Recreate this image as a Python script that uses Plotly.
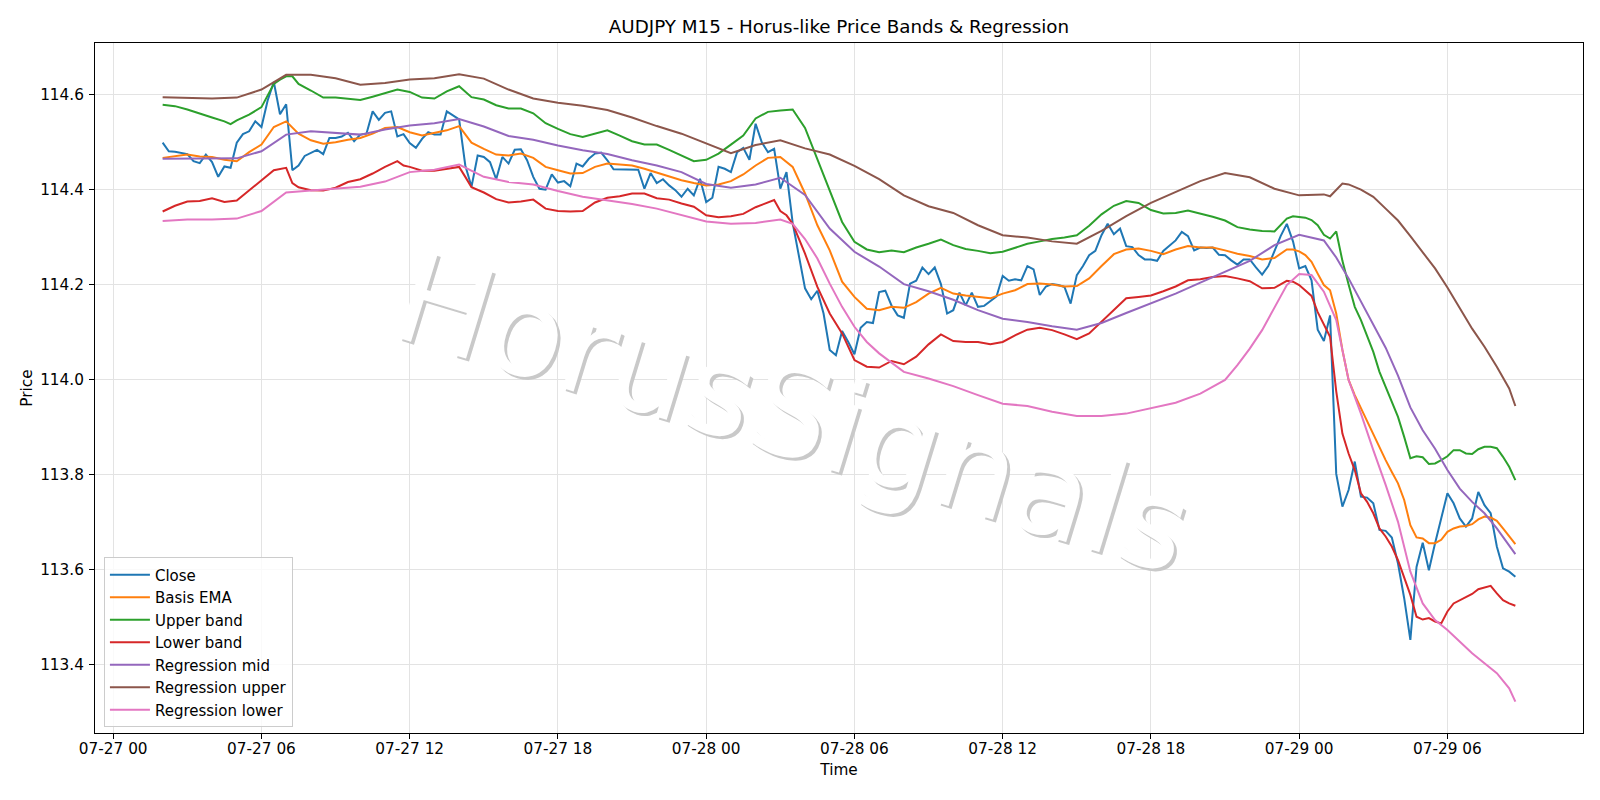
import pandas as pd
import plotly.graph_objects as go

# ---------------- data ----------------
start = pd.Timestamp("2025-07-27 02:00")
step = pd.Timedelta(minutes=15)

close = [
    114.499, 114.481, 114.480, 114.478, 114.475, 114.460, 114.456, 114.474, 114.458, 114.427,
    114.449, 114.446, 114.499, 114.517, 114.523, 114.544, 114.532, 114.588, 114.627, 114.559,
    114.580, 114.441, 114.451, 114.471, 114.478, 114.484, 114.475, 114.509, 114.509, 114.512,
    114.520, 114.502, 114.516, 114.518, 114.565, 114.547, 114.562, 114.565, 114.512, 114.517,
    114.498, 114.488, 114.507, 114.521, 114.516, 114.516, 114.565, 114.556, 114.548, 114.451,
    114.406, 114.472, 114.469, 114.458, 114.422, 114.469, 114.455, 114.484, 114.485, 114.462,
    114.427, 114.402, 114.400, 114.432, 114.415, 114.418, 114.407, 114.455, 114.449, 114.465,
    114.476, 114.478, 114.462, 114.443, 114.443, 114.443, 114.443, 114.442, 114.402, 114.435,
    114.414, 114.422, 114.409, 114.399, 114.385, 114.402, 114.388, 114.423, 114.374, 114.383,
    114.448, 114.444, 114.437, 114.479, 114.488, 114.463, 114.539, 114.500, 114.479, 114.486,
    114.402, 114.437, 114.330, 114.260, 114.192, 114.169, 114.187, 114.139, 114.062, 114.051,
    114.102, 114.079, 114.053, 114.109, 114.121, 114.119, 114.184, 114.187, 114.156, 114.135,
    114.130, 114.202, 114.208, 114.236, 114.222, 114.236, 114.201, 114.139, 114.146, 114.183,
    114.156, 114.183, 114.153, 114.155, 114.166, 114.175, 114.218, 114.208, 114.211, 114.209,
    114.239, 114.232, 114.178, 114.196, 114.201, 114.199, 114.195, 114.160, 114.220, 114.239,
    114.262, 114.271, 114.304, 114.328, 114.306, 114.318, 114.281, 114.279, 114.262, 114.253,
    114.253, 114.250, 114.271, 114.283, 114.293, 114.311, 114.302, 114.272, 114.278, 114.277,
    114.278, 114.263, 114.262, 114.251, 114.242, 114.253, 114.253, 114.236, 114.221, 114.239,
    114.271, 114.302, 114.328, 114.291, 114.234, 114.239, 114.209, 114.105, 114.081, 114.135,
    113.801, 113.732, 113.767, 113.827, 113.753, 113.751, 113.739, 113.683, 113.681, 113.667,
    113.612, 113.539, 113.451, 113.605, 113.656, 113.598, 113.655, 113.707, 113.760, 113.739,
    113.707, 113.690, 113.707, 113.763, 113.735, 113.718, 113.648, 113.602, 113.595, 113.584,
]

ema_idx = list(range(0, 183, 2)) + list(range(183, 220))
ema = [
    114.467, 114.471, 114.474, 114.470, 114.469, 114.463, 114.460, 114.479, 114.495, 114.532,
    114.544, 114.518, 114.504, 114.497, 114.500, 114.505, 114.509, 114.518, 114.530, 114.532,
    114.521, 114.514, 114.519, 114.525, 114.534, 114.499, 114.486, 114.474, 114.472, 114.476,
    114.467, 114.448, 114.441, 114.434, 114.435, 114.448, 114.455, 114.453, 114.451, 114.444,
    114.436, 114.428, 114.420, 114.414, 114.409, 114.411, 114.418, 114.432, 114.451, 114.467,
    114.469, 114.448, 114.392, 114.325, 114.272, 114.206, 114.174, 114.149, 114.146, 114.153,
    114.151, 114.163, 114.181, 114.193, 114.181, 114.177, 114.174, 114.171, 114.181, 114.188,
    114.201, 114.202, 114.200, 114.196, 114.197, 114.213, 114.239, 114.264, 114.274, 114.276,
    114.271, 114.264, 114.274, 114.281, 114.278, 114.278, 114.272, 114.265, 114.260, 114.253,
    114.256, 114.274,
    114.274, 114.270, 114.262, 114.248, 114.223, 114.199, 114.188, 114.139, 114.062, 113.999,
    113.967, 113.939, 113.911, 113.883, 113.855, 113.830, 113.805, 113.781, 113.746, 113.693,
    113.667, 113.665, 113.655, 113.655, 113.662, 113.679, 113.686, 113.690, 113.691, 113.695,
    113.705, 113.711, 113.709, 113.702, 113.686, 113.670, 113.653,
]

upper_idx = [0, 2, 4, 6, 8, 10, 11, 12, 14, 16, 18, 19, 20, 21, 22] + list(range(24, 183, 2)) + list(range(183, 220))
upper = [
    114.579, 114.576, 114.569, 114.560, 114.552, 114.544, 114.538,
    114.546, 114.558, 114.574, 114.623, 114.632, 114.639, 114.639, 114.623,
    114.609, 114.594, 114.594, 114.592, 114.589, 114.596, 114.603, 114.611, 114.606, 114.594,
    114.592, 114.607, 114.618, 114.595, 114.590, 114.578, 114.571, 114.571, 114.561, 114.540,
    114.528, 114.517, 114.511, 114.518, 114.525, 114.514, 114.502, 114.495, 114.495, 114.484,
    114.472, 114.460, 114.463, 114.476, 114.495, 114.514, 114.550, 114.564, 114.567, 114.569,
    114.530, 114.464, 114.395, 114.332, 114.290, 114.274, 114.268, 114.272, 114.268, 114.278,
    114.286, 114.295, 114.283, 114.275, 114.271, 114.266, 114.269, 114.277, 114.286, 114.291,
    114.296, 114.299, 114.304, 114.324, 114.348, 114.366, 114.376, 114.372, 114.357, 114.350,
    114.351, 114.356, 114.350, 114.343, 114.335, 114.321, 114.316, 114.313, 114.312, 114.339,
    114.344, 114.343, 114.341, 114.336, 114.325, 114.305, 114.297, 114.312, 114.250, 114.200,
    114.153, 114.125, 114.090, 114.058, 114.016, 113.984, 113.956, 113.921, 113.879, 113.834,
    113.838, 113.836, 113.822, 113.823, 113.830, 113.838, 113.851, 113.851, 113.844, 113.843,
    113.853, 113.858, 113.858, 113.855, 113.837, 113.816, 113.788,
]

lower_idx = (list(range(0, 21, 2)) + [21] + list(range(22, 39, 2)) + [39] + list(range(40, 49, 2)) + [49]
             + list(range(50, 99, 2)) + [99, 100, 101] + list(range(102, 183, 2)) + list(range(183, 220)))
lower = [
    114.354, 114.366, 114.375, 114.376, 114.382, 114.374, 114.377, 114.399, 114.420, 114.441, 114.446,
    114.414,
    114.405, 114.399, 114.398, 114.404, 114.416, 114.422, 114.434, 114.448, 114.460,
    114.451,
    114.448, 114.440, 114.440, 114.444, 114.448,
    114.427,
    114.405, 114.394, 114.380, 114.373, 114.375, 114.379, 114.360, 114.355, 114.354, 114.355,
    114.373, 114.383, 114.386, 114.392, 114.392, 114.382, 114.379, 114.371, 114.364, 114.346,
    114.342, 114.344, 114.349, 114.363, 114.374,
    114.378, 114.355, 114.346,
    114.328, 114.265, 114.195, 114.139, 114.097, 114.041, 114.027, 114.025, 114.039, 114.032,
    114.048, 114.074, 114.095, 114.081, 114.079, 114.079, 114.074, 114.079, 114.093, 114.105,
    114.109, 114.104, 114.095, 114.085, 114.097, 114.121, 114.147, 114.171, 114.174, 114.177,
    114.186, 114.196, 114.209, 114.211, 114.216, 114.218, 114.213, 114.207, 114.192, 114.193,
    114.208,
    114.206, 114.199, 114.188, 114.176, 114.142, 114.115, 114.090, 113.975, 113.886, 113.844,
    113.809, 113.760, 113.742, 113.718, 113.686, 113.669, 113.648, 113.619, 113.584, 113.546,
    113.500, 113.494, 113.497, 113.490, 113.486, 113.511, 113.528, 113.535, 113.541, 113.548,
    113.558, 113.561, 113.565, 113.549, 113.535, 113.528, 113.523,
]

reg_mid_idx = list(range(0, 185, 4)) + list(range(188, 219, 2)) + [219]
reg_mid = [
    114.465, 114.465, 114.465, 114.466, 114.481, 114.516, 114.523, 114.520, 114.516, 114.527,
    114.535, 114.540, 114.549, 114.533, 114.513, 114.505, 114.493, 114.483, 114.475, 114.462,
    114.451, 114.437, 114.412, 114.404, 114.411, 114.425, 114.389, 114.318, 114.269, 114.238,
    114.201, 114.186, 114.168, 114.146, 114.128, 114.121, 114.112, 114.105, 114.119, 114.140,
    114.161, 114.181, 114.204, 114.227, 114.250, 114.283, 114.305,
    114.293, 114.257, 114.213, 114.165, 114.118, 114.067, 114.008, 113.941, 113.893, 113.854,
    113.809, 113.770, 113.742, 113.718, 113.686, 113.651,
    113.632,
]

reg_up_idx = list(range(0, 189, 4)) + [189, 191, 192, 194, 196] + list(range(198, 219, 2)) + [219]
reg_up = [
    114.595, 114.593, 114.592, 114.594, 114.611, 114.642, 114.642, 114.635, 114.621, 114.625,
    114.632, 114.635, 114.643, 114.634, 114.611, 114.592, 114.583, 114.577, 114.568, 114.552,
    114.534, 114.518, 114.497, 114.477, 114.494, 114.504, 114.487, 114.474, 114.450, 114.422,
    114.388, 114.365, 114.351, 114.325, 114.304, 114.299, 114.291, 114.286, 114.313, 114.344,
    114.372, 114.395, 114.418, 114.435, 114.426, 114.402, 114.388, 114.390,
    114.386, 114.413, 114.411, 114.400, 114.385,
    114.360, 114.335, 114.302, 114.269, 114.234, 114.194, 114.149, 114.107, 114.069, 114.027,
    113.981,
    113.944,
]

reg_lo_idx = (list(range(0, 101, 4)) + [102, 104, 106, 108, 110, 112, 114, 116]
              + list(range(120, 173, 4)) + list(range(174, 219, 2)) + [219])
reg_lo = [
    114.334, 114.337, 114.337, 114.339, 114.355, 114.394, 114.398, 114.402, 114.406, 114.417,
    114.437, 114.442, 114.453, 114.427, 114.416, 114.411, 114.397, 114.385, 114.377, 114.370,
    114.360, 114.347, 114.333, 114.328, 114.330, 114.337,
    114.328, 114.296, 114.255, 114.202, 114.153, 114.111, 114.079, 114.055,
    114.016, 114.002, 113.986, 113.967, 113.949, 113.944, 113.932, 113.923, 113.923, 113.928,
    113.939, 113.951, 113.970, 113.999,
    114.030, 114.065, 114.104, 114.153, 114.199, 114.222, 114.220, 114.185, 114.125, 113.999,
    113.928, 113.851, 113.778, 113.700, 113.595, 113.528, 113.493, 113.472, 113.447, 113.423,
    113.402, 113.381, 113.349,
    113.321,
]

series = [
    ("Close", list(range(len(close))), close, "#1f77b4"),
    ("Basis EMA", ema_idx, ema, "#ff7f0e"),
    ("Upper band", upper_idx, upper, "#2ca02c"),
    ("Lower band", lower_idx, lower, "#d62728"),
    ("Regression mid", reg_mid_idx, reg_mid, "#9467bd"),
    ("Regression upper", reg_up_idx, reg_up, "#8c564b"),
    ("Regression lower", reg_lo_idx, reg_lo, "#e377c2"),
]

# ---------------- layout geometry ----------------
W, H = 1600, 800
ML, MR, MT, MB = 95, 17, 43, 67
PW, PH = W - ML - MR, H - MT - MB

t_first = start
t_last = start + step * (len(close) - 1)
x_span = t_last - t_first
x0 = t_first - x_span * 0.05
x1 = t_last + x_span * 0.05

all_vals = [v for s in series for v in s[2]]
vmin, vmax = min(all_vals), max(all_vals)
d = vmax - vmin
y0, y1 = vmin - 0.05 * d, vmax + 0.05 * d

FONT = "DejaVu Sans"

fig = go.Figure()

# watermark (drawn as bar text so the lines stay on top of it)
wm_fx, wm_fy = 0.4691, 0.4638
xc = x0 + (x1 - x0) * wm_fx
yc = y0 + (y1 - y0) * wm_fy
ms_per_px = (x1 - x0).total_seconds() * 1000 / PW
val_per_px = (y1 - y0) / PH
half_h = 0.47
w_ms = 40 * 3600 * 1000
for col, ox, oy in [("#c9c9c9", 3, 3), ("#ffffff", 0, 0)]:
    fig.add_trace(go.Bar(
        x=[xc + pd.Timedelta(milliseconds=ox * ms_per_px)],
        y=[2 * half_h],
        base=[yc - half_h - oy * val_per_px],
        width=[w_ms],
        text=["HorusSignals"],
        textposition="inside",
        insidetextanchor="middle",
        textangle=17,
        constraintext="none",
        textfont=dict(family=FONT, size=126, color=col),
        marker=dict(color="rgba(0,0,0,0)", line=dict(width=0)),
        hoverinfo="skip",
        showlegend=False,
    ))

for name, idx, vals, color in series:
    fig.add_trace(go.Scatter(
        x=[start + step * i for i in idx],
        y=vals,
        mode="lines",
        name=name,
        line=dict(color=color, width=2),
    ))

axis_common = dict(
    showline=True, linecolor="black", linewidth=1, mirror=True,
    ticks="outside", ticklen=5, tickwidth=1, tickcolor="black",
    showgrid=True, gridcolor="#e3e3e3", gridwidth=1.2,
    zeroline=False,
    tickfont=dict(family=FONT, size=15.3, color="black"),
)

fig.update_layout(
    template="none",
    width=W, height=H,
    margin=dict(l=ML, r=MR, t=MT, b=MB, pad=0),
    paper_bgcolor="white", plot_bgcolor="white",
    barmode="overlay",
    font=dict(family=FONT, size=15.3, color="black"),
    title=dict(
        text="AUDJPY M15 - Horus-like Price Bands & Regression",
        x=0.5, xref="paper", xanchor="center",
        y=1 - 26.5 / H, yref="container", yanchor="middle",
        font=dict(family=FONT, size=18.3, color="black"),
    ),
    xaxis=dict(
        axis_common,
        type="date",
        range=[x0, x1],
        tick0="2025-07-27 00:00",
        dtick=6 * 3600 * 1000,
        tickformat="%m-%d %H",
        ticklabelstandoff=-3,
        title=dict(text="Time", standoff=6, font=dict(family=FONT, size=15.3, color="black")),
    ),
    yaxis=dict(
        axis_common,
        range=[y0, y1],
        tick0=113.4,
        dtick=0.2,
        tickformat=".1f",
        ticklabelstandoff=2,
        title=dict(text="Price", standoff=3, font=dict(family=FONT, size=15.3, color="black")),
    ),
    legend=dict(
        x=0.006, y=0.008, xanchor="left", yanchor="bottom",
        bgcolor="rgba(255,255,255,0.8)",
        bordercolor="#cccccc", borderwidth=1,
        font=dict(family=FONT, size=15, color="black"),
        itemwidth=40,
        tracegroupgap=0,
    ),
    showlegend=True,
)

fig.write_html("out.html")
